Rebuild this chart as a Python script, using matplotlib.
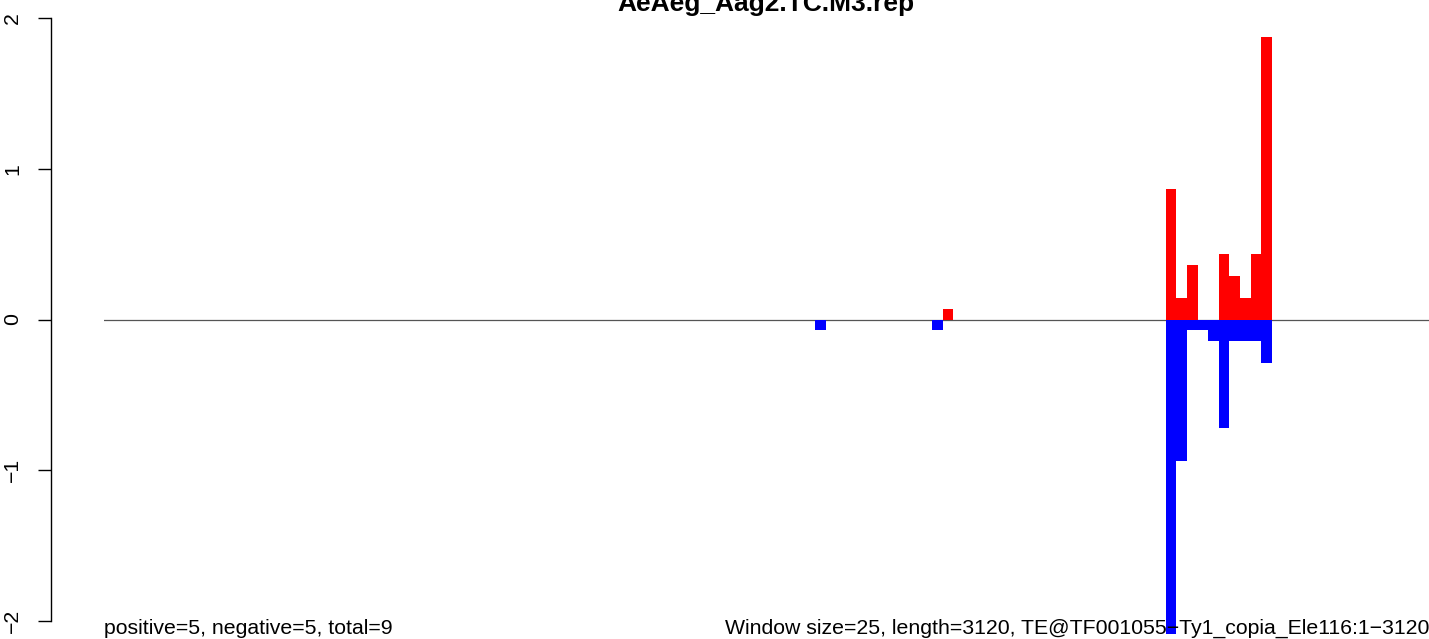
"""
Strand-split coverage of small RNA reads along one TE (windows of 25 bp),
redrawn after an R barplot: sense reads up in red, antisense reads down in blue.
"""

import matplotlib
matplotlib.use("Agg")
import matplotlib.pyplot as plt

plt.rcParams["font.family"] = ["Liberation Sans", "DejaVu Sans"]

# ----------------------------------------------------------------------
# data: window start (bp) and normalised counts per strand
# ----------------------------------------------------------------------
TITLE = "AeAeg_Aag2.TC.M3.rep"
TE_LENGTH = 3120
WINDOW = 25

pos_start = [1975, 2500, 2525, 2550, 2625, 2650, 2675, 2700, 2725]
pos_value = [0.072, 0.864, 0.144, 0.360, 0.432, 0.288, 0.144, 0.432, 1.872]

neg_start = [1675, 1950, 2500, 2525, 2550, 2575, 2600, 2625, 2650, 2675, 2700, 2725]
neg_value = [-0.072, -0.072, -2.088, -0.936, -0.072, -0.072, -0.144, -0.720,
             -0.144, -0.144, -0.144, -0.288]

y_ticks = [-2, -1, 0, 1, 2]
left_note = "positive=5, negative=5, total=9"
right_note = "Window size=25, length=3120, TE@TF001055\u2212Ty1_copia_Ele116:1\u22123120"

# ----------------------------------------------------------------------
# figure
# ----------------------------------------------------------------------
W, H, DPI = 1429, 639, 100
fig = plt.figure(figsize=(W / DPI, H / DPI), dpi=DPI)
ax = fig.add_axes([104 / W, (H - 621) / H, (W - 104) / W, (621 - 18) / H])

ax.axhline(0, color="#555555", linewidth=0.9, zorder=1)
ax.bar(pos_start, pos_value, width=WINDOW, align="edge", color="#ff0000",
       linewidth=0, zorder=2, clip_on=False)
ax.bar(neg_start, neg_value, width=WINDOW, align="edge", color="#0000ff",
       linewidth=0, zorder=2, clip_on=False)

ax.set_xlim(0, TE_LENGTH)
ax.set_ylim(-2, 2)

for side in ["top", "right", "bottom"]:
    ax.spines[side].set_visible(False)
ax.spines["left"].set_position(("outward", 53 * 72 / DPI))
ax.spines["left"].set_linewidth(1.0)
ax.set_xticks([])
ax.set_yticks(y_ticks)
ax.set_yticklabels([str(t).replace("-", "\u2212") for t in y_ticks])
ax.tick_params(axis="y", length=9.4, width=1.0, pad=11.5, labelsize=15.3,
               labelrotation=90)
for lab in ax.get_yticklabels():
    lab.set_va("center")

fig.text(766 / W, (H - 11) / H, TITLE, ha="center", va="baseline",
         fontsize=19, fontweight="bold")
fig.text(104 / W, (H - 634) / H, left_note, ha="left", va="baseline", fontsize=15.3)
fig.text(1429 / W, (H - 634) / H, right_note, ha="right", va="baseline", fontsize=15.3)

fig.savefig("out.png", dpi=DPI)
